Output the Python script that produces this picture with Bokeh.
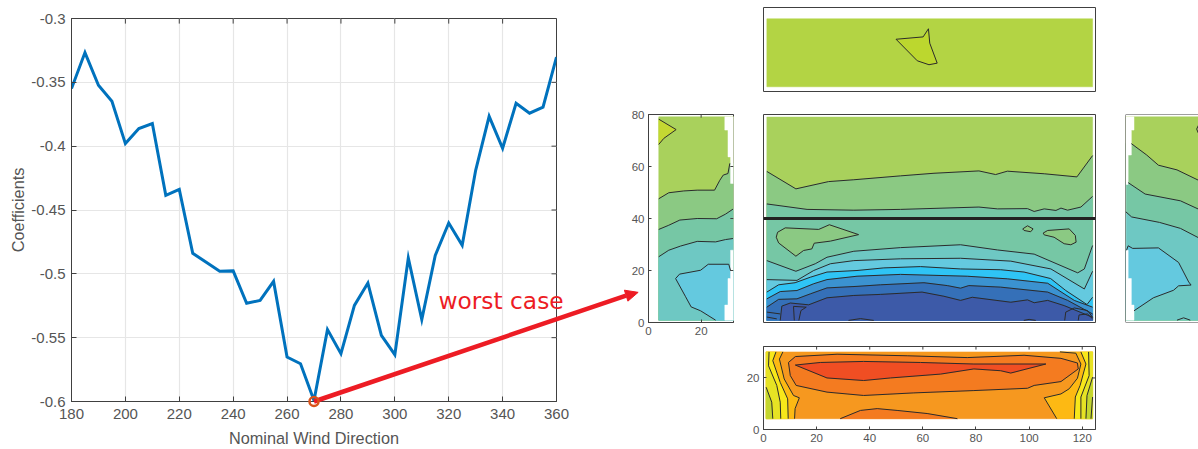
from bokeh.embed import file_html
from bokeh.resources import INLINE
from bokeh.plotting import figure
from bokeh.layouts import row, column
from bokeh.models import (LinearAxis, FixedTicker, Range1d, NumeralTickFormatter, Label, Span, Grid)

# ---- line chart values ----
directions = list(range(180, 365, 5))
coefficients = [-0.3549, -0.3267, -0.3523, -0.3648, -0.3980, -0.3862, -0.3823, -0.4385, -0.4338,
                -0.4839, -0.4910, -0.4980, -0.4977, -0.5231, -0.5208, -0.5059, -0.5652, -0.5704,
                -0.5992, -0.5437, -0.5625, -0.5247, -0.5072, -0.5482, -0.5633, -0.4876, -0.5359,
                -0.4855, -0.4602, -0.4777, -0.4189, -0.3766, -0.4016, -0.3664, -0.3742, -0.3695,
                -0.3303]
worst_dir = 270
worst_coef = -0.6
x_ticks = list(range(180, 380, 20))
y_ticks = [-0.6, -0.55, -0.5, -0.45, -0.4, -0.35, -0.3]
annotation = "worst case"
x_title = "Nominal Wind Direction"
y_title = "Coefficients"
arrow_head_x = [385.2, 390.3, 386.5]
arrow_head_y = [-0.5128, -0.5145, -0.5214]
arrow_neck = (385.8, -0.5171)

# ---- contour levels, main panel ----
c1 = [(1.26, 58.1), (12.2, 51.4), (24.5, 54.2), (34, 54.9), (51.6, 56.4), (64.2, 57.4), (81.1, 58.3),
      (87.4, 56.9), (91.8, 58.2), (105.7, 57.2), (118, 56), (123.9, 64.2)]
c2 = [(1.26, 45.6), (16.4, 43.5), (34, 43.2), (51.6, 43.5), (81.1, 44.4), (88.1, 43.7), (99.4, 43.8),
      (101.9, 42.7), (105.7, 43.7), (110.1, 43.1), (112, 44), (114.5, 43.2), (119.5, 44.4), (123.9, 48.5)]
isle_a = [(35.8, 33.8), (24.8, 37.6), (20.8, 35.8), (8.2, 36.4), (5.3, 34.7), (4.8, 32.8), (5.7, 30.6),
          (12.2, 25.5), (15.1, 27.7), (18.2, 28.3), (19.1, 30.5), (25.2, 31.3), (35.8, 33.8)]
isle_b = [(97.6, 36), (99.4, 37.2), (101.5, 36), (100.6, 34.9), (98.1, 35.4), (97.6, 36)]
isle_c = [(105.3, 34.4), (107, 35.4), (115.1, 36), (117.4, 33.5), (117.7, 30.9), (115.7, 29.9),
          (113.2, 30.3), (109.4, 32.8), (105.7, 33.7), (105.3, 34.4)]
c3 = [(1.26, 23.8), (12.2, 19.7), (19.5, 22.6), (23.9, 25.1), (34, 27.4), (51.6, 28.8), (74.2, 29.9),
      (88.1, 27.9), (101.9, 26.3), (118.3, 19.1), (120.8, 20.6), (123.9, 29.6)]
c4 = [(1.26, 16.5), (12.6, 16.2), (18.9, 20), (25.2, 22.6), (34, 23.8), (51.6, 24.5), (74.2, 24.7),
      (93.1, 23.6), (108.2, 20.6), (120.8, 12.9), (123.9, 19.7)]
c5 = [(1.26, 11.7), (5.7, 14.5), (11.9, 15.3), (17.6, 17.4), (23.9, 19.4), (35.2, 20), (45.3, 21),
      (59.1, 21.5), (74.2, 20.6), (89.3, 20.3), (98.1, 19.4), (108.1, 16.9), (113.8, 12.3), (121.8, 6.9),
      (123.9, 9.7)]
c6 = [(1.26, 9.1), (6.3, 11.9), (12.6, 12.3), (18.9, 14.9), (23.9, 16.5), (35.2, 17.8), (51.6, 18.5),
      (76.7, 17.8), (91.8, 16.8), (107, 15.1), (117, 8.5), (123.9, 5.9)]
c7 = [(1.26, 5.9), (5.7, 8.9), (12.6, 9.1), (17.6, 11), (23.9, 13.3), (35.2, 13.9), (44, 14.5), (60.4, 15.3),
      (69.2, 14.2), (74.2, 13.2), (77.3, 14.2), (89.3, 13.6), (107, 11.7), (114.5, 8.5), (123.9, 3.3)]
c8 = [(6.3, 0.8), (6.9, 6.3), (10.1, 7.5), (17, 6.8), (23.9, 9.5), (34, 10.4), (44, 10.8), (59.7, 11.7),
      (67.9, 10.1), (74.2, 8.5), (78.6, 9.7), (93.1, 7.8), (99.4, 8.7), (101.9, 7.6), (107, 8.5),
      (113.2, 6.5), (123.9, 2)]
isle_d = [(11.6, 0.8), (11.3, 6.2), (16.1, 5.9), (14.1, 4.6), (13.3, 0.8)]
detail_e = [(1.26, 4), (6.3, 3.3)]
detail_f = [(1.26, 2.1), (5, 1.4)]
detail_g = [(113.4, 0.8), (113.8, 4), (117, 5.6), (122, 4.6), (123.9, 2)]
detail_h = [(118.5, 0.8), (118.8, 2.9), (122, 3.3), (123.9, 1.4)]
detail_i = [(32, 0.8), (36.5, 1.5), (41.5, 0.8)]
detail_j = [(98, 0.8), (100, 1.2), (102.5, 0.8)]
section_y = 40

# ---- left panel ----
left_a = [(3.9, 78.2), (10.5, 74.2), (5.8, 70.8), (3.9, 68.5)]
left_1 = [(3.9, 47.6), (7.7, 49.9), (13.4, 50.6), (18.5, 50.9), (25.1, 50.9), (27.1, 54.7), (28.4, 56.7),
          (30.2, 57.3), (30.9, 61.2)]
left_2 = [(3.9, 35.8), (7.7, 37.4), (11.9, 39.4), (18.5, 40), (25.9, 39.9), (29.3, 41.7), (32.1, 43.6)]
left_3 = [(3.9, 25.3), (7.7, 27.8), (12.2, 29.4), (18.5, 31.2), (25.5, 31), (29.3, 31.9), (32.1, 32.3)]
left_4 = [(25.5, 0.9), (19.8, 4.5), (16.2, 6), (14.1, 9.9), (10.3, 16.9), (11.8, 18.6), (19.8, 20.1),
          (22.7, 22.4), (30.5, 22.4), (31.2, 19.9)]
left_edge = [(29, 79.1), (29, 74), (30.2, 74), (30.2, 63.7), (31.2, 63.7), (31.2, 53.5), (32.4, 53.5),
             (32.4, 27.8), (31.2, 27.8), (31.2, 16.9), (30.2, 16.9), (30.2, 6.7), (29, 6.7), (29, 0.9)]

# ---- right panel ----
right_1 = [(2.2, 68.8), (8, 64.4), (12.4, 60.5), (19.4, 58.7), (27.5, 54.7)]
right_2 = [(1, 53.8), (7.4, 49.4), (20.7, 46.8), (27.5, 43.6)]
right_3 = [(0.1, 42.6), (2.3, 40.6), (12.8, 38.5), (20.7, 36.2), (27.5, 32.6)]
right_4 = [(0.4, 27.8), (1, 29.5), (2.7, 28.5), (12.4, 28.7), (20, 23.1), (23.8, 15.6), (24.7, 14.4),
           (20, 14.1), (18.1, 12.4), (10.5, 9.5), (3.2, 4.5)]
right_b = [(27.5, 75.9), (26.8, 74.4), (27.5, 72.7)]
right_c = [(19.4, 0.9), (21.9, 1.8), (24.4, 0.9)]
right_edge = [(3.2, 79.1), (3.2, 74), (2.2, 74), (2.2, 64.4), (1, 64.4), (1, 53.1), (0.1, 53.1), (0.1, 27.8),
              (1, 27.8), (1, 16.9), (2.2, 16.9), (2.2, 6.7), (3.2, 6.7), (3.2, 0.9)]

# ---- top panel ----
top_isle = [(49.9, 19.9), (60.1, 20.8), (62.1, 23.9), (62.6, 18.4), (65.4, 10.8), (62.3, 10.2), (57.9, 11.7),
            (49.9, 19.9)]

# ---- bottom panel ----
bot_a = [(1, 16.4), (3.1, 10.6), (3.5, 4.2)]
bot_b = [(2.1, 30.1), (1.9, 24.7), (5, 17.1), (6.3, 10.6), (6.5, 4.2)]
bot_c = [(4.7, 30.1), (3.5, 26.7), (6.3, 18.3), (9.1, 11.9), (9.3, 4.2)]
bot_d = [(7.3, 30.1), (6, 27.3), (7.8, 19.6), (11.3, 13.2), (13.5, 12.3), (11.9, 8.1), (11.7, 4.2)]
bot_gold = [(110.4, 4.2), (105.7, 12.3), (112, 13.8), (115.1, 15.8), (118.2, 19.9), (119.5, 25.4), (117.6, 29.6),
            (111.6, 30.1)]
bot_r1 = [(117, 4.2), (117.4, 12.6), (119.2, 17.1), (121.4, 25.4), (119.5, 30.1)]
bot_r2 = [(119.5, 4.2), (119.5, 12.6), (122.6, 20.9), (122.4, 30.1)]
bot_r3 = [(121.4, 4.2), (121.8, 13.2), (123.9, 20.3)]
bot_r4 = [(123.3, 4.2), (123.9, 12.6)]
bot_dark = [(9.4, 26), (12, 28.3), (27.7, 29.2), (54.1, 28.6), (76.7, 27.9), (98.1, 28.8), (112, 27.6), (118.2, 25.8),
            (118.5, 23.5), (112, 18.6), (101.9, 17.1), (99.4, 16), (79.2, 15.1), (56.6, 14.2), (37.7, 13.2),
            (23.9, 14.5), (12.3, 17.1), (10.1, 20.9), (9.4, 26)]
bot_red = [(12, 25), (21.4, 26), (37.7, 26.4), (59.1, 26), (79.2, 25.4), (106.3, 25.4), (93.1, 21.9), (89.3, 22.8),
           (79.2, 23.5), (66.7, 21.5), (47.8, 20), (37.7, 19), (23.9, 20), (12, 25)]
bot_low = [(28.9, 4.2), (36.5, 7.4), (42.8, 8.1), (50.3, 7.4), (61.6, 6.2), (73, 4.2)]

# ---- colours ----
BANDS = ["#a9d15c", "#8bc983", "#76c7a5", "#6ec8c3", "#64c9df", "#2fc4f5", "#3b92d0", "#3570b8", "#3d5aa8"]
TOP_GREEN, TOP_LIME = "#b3d444", "#bcd72e"
CORNER = "#c4d832"
ORANGE, DARK_ORANGE, RED_ORANGE = "#f6981f", "#f47b20", "#f04e23"
GOLD, YELLOW, LEMON, LIME = "#fdb913", "#f8e71a", "#e6e324", "#c3d62f"
INK = "#2b2b2b"
AXIS = "#404040"
TICK_TEXT = "#555555"
RED = "#ED1C24"
FONT = "Liberation Sans"


def xs(c):
    return [v[0] for v in c]


def ys(c):
    return [v[1] for v in c]


def fill(p, c, color):
    p.patch(xs(c), ys(c), fill_color=color, line_color=color, line_width=0.5)


def curve(p, c, width=1.0):
    p.line(xs(c), ys(c), line_color=INK, line_width=width)


def below(p, c, color, x0, x1, y0):
    fill(p, [(x0, c[0][1])] + c + [(x1, c[-1][1]), (x1, y0), (x0, y0)], color)


def bare(w, h, x_end, y_end, left, right, top, bottom, **kw):
    p = figure(width=w, height=h, x_range=Range1d(0, x_end), y_range=Range1d(0, y_end),
               toolbar_location=None, output_backend="svg", min_border_left=left, min_border_right=right,
               min_border_top=top, min_border_bottom=bottom, x_axis_type=None, y_axis_type=None,
               background_fill_color="white", border_fill_color=None, **kw)
    p.grid.visible = False
    p.outline_line_color = AXIS
    p.outline_line_width = 1
    return p


def ticked(p, where, ticks):
    ax = LinearAxis(ticker=FixedTicker(ticks=ticks), axis_line_color=AXIS, major_tick_line_color=AXIS,
                    major_tick_in=3, major_tick_out=0, minor_tick_in=0, minor_tick_out=0,
                    major_label_text_font=FONT, major_label_text_font_size="11.5px",
                    major_label_text_color=TICK_TEXT, major_label_standoff=4)
    p.add_layout(ax, where)
    return ax


def mirror_top(p, ticks, y, length):
    p.segment(ticks, [y] * len(ticks), ticks, [y - length] * len(ticks), line_color=AXIS, line_width=1)


def mirror_right(p, ticks, x, length):
    p.segment([x] * len(ticks), ticks, [x - length] * len(ticks), ticks, line_color=AXIS, line_width=1)


# ---- line chart ----
p = figure(width=640, height=449, x_range=Range1d(180, 360), y_range=Range1d(-0.6, -0.3), toolbar_location=None,
           output_backend="svg", min_border_left=71, min_border_right=84, min_border_top=18, min_border_bottom=48,
           x_axis_type=None, y_axis_type=None, border_fill_color=None)
p.outline_line_color = AXIS
ax_l = LinearAxis(ticker=FixedTicker(ticks=y_ticks), axis_line_color=AXIS, major_tick_line_color=AXIS, major_tick_in=5,
                  major_tick_out=0, minor_tick_in=0, minor_tick_out=0, major_label_text_font=FONT,
                  major_label_text_font_size="15px", major_label_text_color=TICK_TEXT, major_label_standoff=6,
                  formatter=NumeralTickFormatter(format="0.0[0]"), axis_label=y_title, axis_label_text_font=FONT,
                  axis_label_text_font_size="16.3px", axis_label_text_font_style="normal",
                  axis_label_text_color=TICK_TEXT, axis_label_standoff=1)
ax_b = LinearAxis(ticker=FixedTicker(ticks=x_ticks), axis_line_color=AXIS, major_tick_line_color=AXIS, major_tick_in=5,
                  major_tick_out=0, minor_tick_in=0, minor_tick_out=0, major_label_text_font=FONT,
                  major_label_text_font_size="15px", major_label_text_color=TICK_TEXT, major_label_standoff=7,
                  axis_label=x_title, axis_label_text_font=FONT, axis_label_text_font_size="16.3px",
                  axis_label_text_font_style="normal", axis_label_text_color=TICK_TEXT, axis_label_standoff=7,
                  axis_label_text_line_height=1.0)
p.add_layout(ax_l, "left")
p.add_layout(ax_b, "below")
p.add_layout(Grid(dimension=0, ticker=FixedTicker(ticks=x_ticks), grid_line_color="#e6e6e6", grid_line_width=1.2))
p.add_layout(Grid(dimension=1, ticker=FixedTicker(ticks=y_ticks), grid_line_color="#e6e6e6", grid_line_width=1.2))
p.line(directions, coefficients, line_color="#0072BD", line_width=3, line_join="miter")
mirror_top(p, x_ticks, -0.3, 0.004)
mirror_right(p, y_ticks, 360, 1.85)

# ---- overlay holding the ring, arrow and note on the same scales as the line chart ----
PX_X, PX_Y = 485 / 180, 383 / 0.3   # pixels per data unit of the line chart
ov = figure(width=340, height=130, toolbar_location=None, output_backend="svg", x_axis_type=None, y_axis_type=None,
            x_range=Range1d(180 + (300 - 71) / PX_X, 180 + (640 - 71) / PX_X),
            y_range=Range1d(-0.6 - (410 - 401) / PX_Y, -0.6 + (401 - 280) / PX_Y),
            min_border=0, min_border_left=0, min_border_right=0, min_border_top=0, min_border_bottom=0,
            background_fill_color=None, border_fill_color=None)
ov.grid.visible = False
ov.outline_line_color = None
ov.line([worst_dir, arrow_neck[0]], [worst_coef, arrow_neck[1]], line_color=RED, line_width=4.5)
ov.patch(arrow_head_x, arrow_head_y, fill_color=RED, line_color=RED)
ov.scatter([worst_dir], [worst_coef], marker="circle", size=9, fill_color=None, line_color="#D95319", line_width=2.5)
ov.text([316.2], [-0.5208], text=[annotation], text_color=RED, text_font={"value": "DejaVu Sans"},
        text_font_size="23.3px", text_baseline="alphabetic")

# ---- top panel ----
ptop = bare(370, 100, 125, 32, 23, 15, 7, 9)
fill(ptop, [(1.26, 27.7), (123.9, 27.7), (123.9, 1.8), (1.26, 1.8)], TOP_GREEN)
fill(ptop, top_isle, TOP_LIME)
curve(ptop, top_isle)

# ---- centre panel ----
pc = bare(370, 230, 125, 80, 23, 15, 14, 8)
X0, X1, Y0, Y1 = 1.26, 123.9, 0.8, 79
fill(pc, [(X0, Y1), (X1, Y1), (X1, Y0), (X0, Y0)], BANDS[0])
for c, color in ((c1, BANDS[1]), (c2, BANDS[2])):
    below(pc, c, color, X0, X1, Y0)
for isle in (isle_a, isle_b, isle_c):
    fill(pc, isle, BANDS[1])
for c, color in ((c3, BANDS[3]), (c4, BANDS[4]), (c5, BANDS[5]), (c6, BANDS[6]), (c7, BANDS[7]), (c8, BANDS[8])):
    below(pc, c, color, X0 if c is not c8 else c8[0][0], X1, Y0)
for c in (c1, c2, isle_a, isle_b, isle_c, c3, c4, c5, c6, c7, c8, isle_d, detail_e, detail_f, detail_g, detail_h,
          detail_i, detail_j):
    curve(pc, c)
pc.line([0, 125], [section_y, section_y], line_color="#222222", line_width=3)

# ---- bottom panel ----
pb = bare(370, 119, 125, 32.2, 23, 15, 16, 20)
BX0, BX1, BY0, BY1 = 1, 123.9, 4.2, 30.1
fill(pb, [(BX0, BY1), (BX1, BY1), (BX1, BY0), (BX0, BY0)], ORANGE)
fill(pb, bot_d + [(BX0, BY0), (BX0, BY1)], GOLD)
fill(pb, bot_c + [(BX0, BY0), (BX0, BY1)], YELLOW)
fill(pb, bot_b + [(BX0, BY0), (BX0, BY1)], LEMON)
fill(pb, bot_a + [(BX0, BY0)], LIME)
fill(pb, bot_gold + [(BX1, BY1), (BX1, BY0)], GOLD)
fill(pb, bot_r1 + [(BX1, BY1), (BX1, BY0)], YELLOW)
fill(pb, bot_r2 + [(BX1, BY1), (BX1, BY0)], LEMON)
fill(pb, bot_r3 + [(BX1, BY0)], LIME)
fill(pb, bot_dark, DARK_ORANGE)
fill(pb, bot_red, RED_ORANGE)
fill(pb, bot_low, DARK_ORANGE)
for c in (bot_a, bot_b, bot_c, bot_d, bot_gold, bot_r1, bot_r2, bot_r3, bot_r4, bot_dark, bot_red, bot_low):
    curve(pb, c)
bottom_x_ticks = list(range(0, 140, 20))
ticked(pb, "below", bottom_x_ticks)
ticked(pb, "left", [0, 20])
mirror_top(pb, bottom_x_ticks, 32.2, 1.2)
mirror_right(pb, [0, 20], 125, 1.2)

# ---- left panel ----
pl = bare(112, 349, 32.3, 80, 20, 7, 14, 127)
LX0, LX1, LY0, LY1 = 3.9, 33, 0.9, 79.1
fill(pl, [(LX0, LY1), (LX1, LY1), (LX1, LY0), (LX0, LY0)], BANDS[0])
fill(pl, left_a, CORNER)
for c, color in ((left_1, BANDS[1]), (left_2, BANDS[2]), (left_3, BANDS[3])):
    below(pl, c, color, LX0, LX1, LY0)
fill(pl, left_4 + [(LX1, 19.9), (LX1, LY0)], BANDS[4])
fill(pl, left_edge + [(LX1, LY0), (LX1, LY1)], "white")
for c in (left_a, left_1, left_2, left_3, left_4):
    curve(pl, c)
left_y_ticks = [0, 20, 40, 60, 80]
ticked(pl, "below", [0, 20])
ticked(pl, "left", left_y_ticks)
mirror_top(pl, [0, 20], 80, 1.2)
mirror_right(pl, left_y_ticks, 32.3, 1.2)

# ---- right panel ----
pr = bare(88, 230, 27.5, 80, 15, 0, 14, 8)
pr.outline_line_color = None
RX0, RX1, RY0, RY1 = 0, 27.5, 0.9, 79.1
fill(pr, [(RX0, RY1), (RX1, RY1), (RX1, RY0), (RX0, RY0)], BANDS[0])
for c, color in ((right_1, BANDS[1]), (right_2, BANDS[2]), (right_3, BANDS[3])):
    below(pr, c, color, RX0, RX1, RY0)
fill(pr, [(RX0, right_4[-1][1])] + [(RX0, right_4[0][1])] + right_4, BANDS[4])
fill(pr, right_edge + [(RX0, RY0), (RX0, RY1)], "white")
for c in (right_1, right_2, right_3, right_4, right_b, right_c):
    curve(pr, c)
pr.add_layout(Span(location=0, dimension="height", line_color=AXIS, line_width=1))
pr.add_layout(Span(location=0, dimension="width", line_color=AXIS, line_width=1))
pr.add_layout(Span(location=80, dimension="width", line_color=AXIS, line_width=1))

stack = column(ptop, pc, pb, spacing=0)
root = row(column(p), column(ov, margin=(280, 0, 0, -340)), column(pl, margin=(100, 0, 0, -12)), stack,
           column(pr, margin=(100, 0, 0, 0)), spacing=0)
open("out.html", "w").write(file_html(root, INLINE))
